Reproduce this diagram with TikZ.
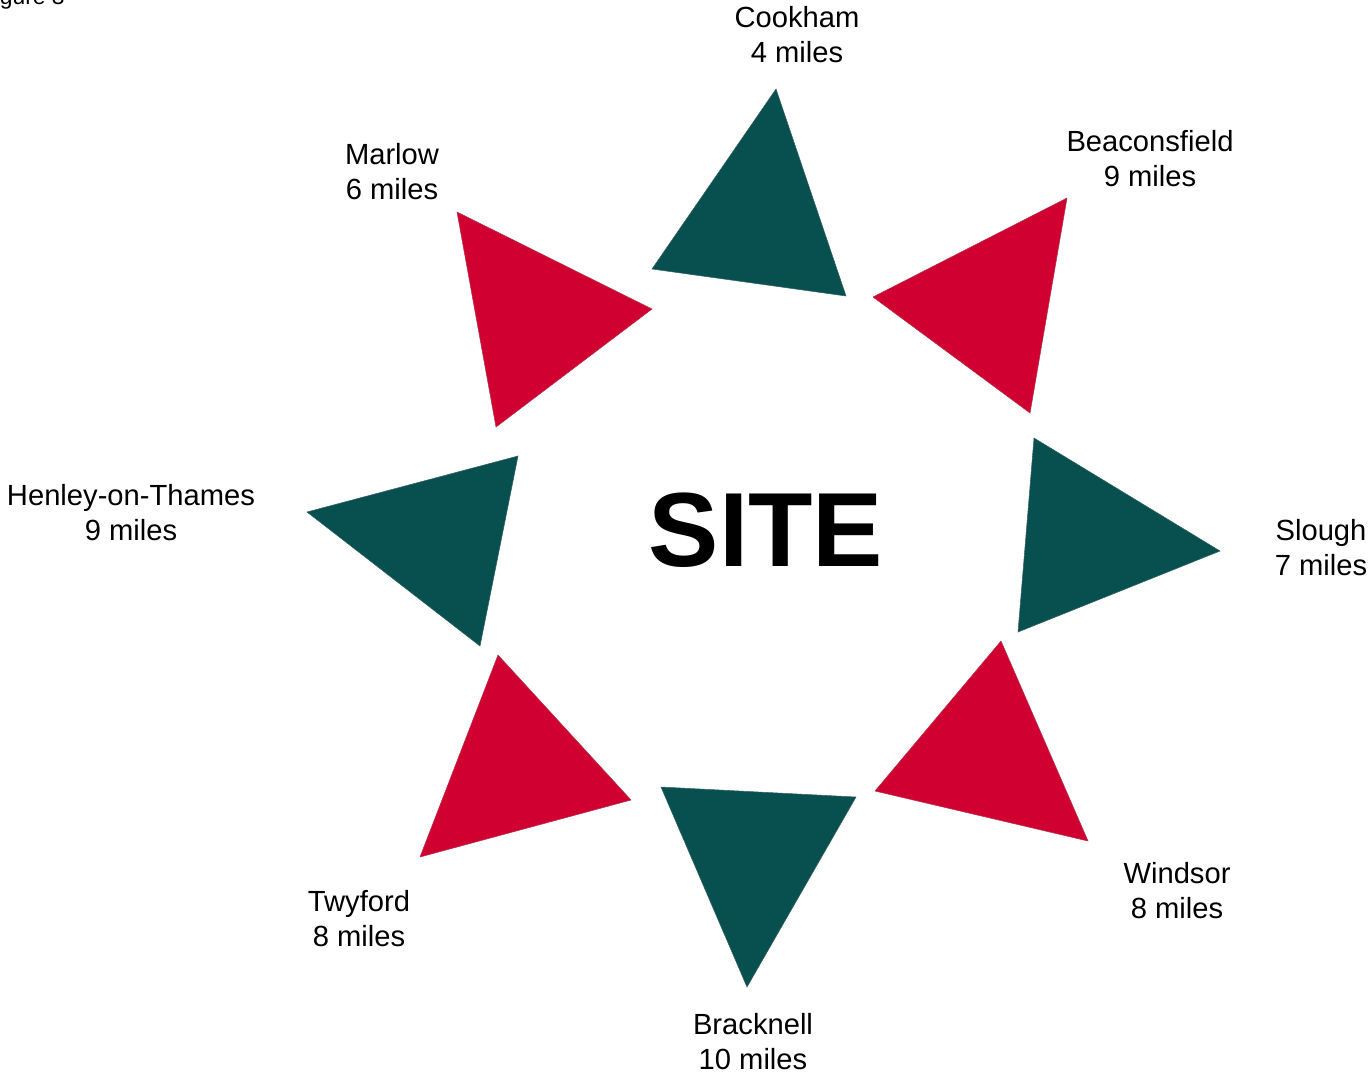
\documentclass[tikz,border=0pt]{standalone}
\usepackage{fontspec}
\setmainfont{Liberation Sans}
\definecolor{sitegreen}{RGB}{8,79,80}
\definecolor{sitered}{RGB}{208,0,48}

\begin{document}
\begin{tikzpicture}[
        x=0.02cm, y=-0.02cm,
        green/.style={fill=sitegreen, draw=sitegreen!60!gray, line width=0.3pt},
        red/.style={fill=sitered, draw=sitered!60!gray, line width=0.3pt},
        place/.style={align=center, font=\fontsize{16.6}{19.9}\selectfont, inner sep=0pt}
      ]
      \useasboundingbox (0,0) rectangle (1368,1073);
      \clip (0,0) rectangle (1368,1073);
      \node[anchor=base east, font=\fontsize{13}{15}\selectfont, inner sep=0pt] (fig) at (65,4) {Figure 3};

      % the eight pointers round the site
      \fill[green] (776,89) -- (652,269) -- (846,296) -- cycle;
      \fill[red] (1067,198) -- (873,297) -- (1030,413) -- cycle;
      \fill[green] (1034,438) -- (1220,551) -- (1018,632) -- cycle;
      \fill[red] (1001,641) -- (875,791) -- (1088,841) -- cycle;
      \fill[green] (661,787) -- (856,797) -- (747,987) -- cycle;
      \fill[red] (498,655) -- (420,857) -- (631,800) -- cycle;
      \fill[green] (518,456) -- (307,512) -- (480,646) -- cycle;
      \fill[red] (457,212) -- (496,427) -- (652,309) -- cycle;

      \node[font=\bfseries\fontsize{60}{66}\selectfont, inner sep=0pt] (site) at (766,530) {SITE};

      % towns and distances
      \node[place] (cookham) at (797,35) {Cookham\\4 miles};
      \node[place] (beacon) at (1150,159) {Beaconsfield\\9 miles};
      \node[place] (slough) at (1321,548) {Slough\\7 miles};
      \node[place] (windsor) at (1177,891) {Windsor\\8 miles};
      \node[place] (bracknell) at (753,1042) {Bracknell\\10 miles};
      \node[place] (twyford) at (359,919) {Twyford\\8 miles};
      \node[place] (henley) at (131,513) {Henley-on-Thames\\9 miles};
      \node[place] (marlow) at (392,172) {Marlow\\6 miles};
    \end{tikzpicture}
\end{document}
